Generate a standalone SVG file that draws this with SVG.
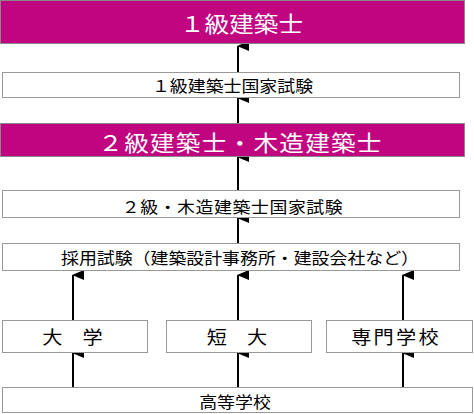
<svg xmlns="http://www.w3.org/2000/svg" width="474" height="414" viewBox="0 0 474 414">
<defs>
<marker id="ah" markerUnits="userSpaceOnUse" markerWidth="12" markerHeight="13" refX="5" refY="1" orient="auto-start-reverse" viewBox="0 0 10 13">
<path d="M0,12 L5,0 L10,12 Z" fill="#000"/>
</marker>
<style>
.mg{fill:#c1047f;stroke:#888;stroke-width:1}
.bx{fill:#fff;stroke:#999;stroke-width:1}
text{font-family:"Noto Sans CJK JP","Noto Sans CJK SC",sans-serif;font-weight:400;text-anchor:middle;dominant-baseline:central;fill:#000}
.big{font-size:22px;fill:#fff}
.mid{font-size:16px}
.sm{font-size:18px}
.cn{stroke:#000;stroke-width:2;fill:none;marker-end:url(#ah)}
</style>
</defs>
<g id="connectors">
<line class="cn" x1="238" y1="72" x2="238" y2="46"/>
<line class="cn" x1="238" y1="123" x2="238" y2="98"/>
<line class="cn" x1="238" y1="190" x2="238" y2="157"/>
<line class="cn" x1="238" y1="243" x2="238" y2="218"/>
<line class="cn" x1="73" y1="320" x2="73" y2="275"/>
<line class="cn" x1="238" y1="320" x2="238" y2="275"/>
<line class="cn" x1="403" y1="320" x2="403" y2="275"/>
<line class="cn" x1="73" y1="387" x2="73" y2="353"/>
<line class="cn" x1="238" y1="387" x2="238" y2="353"/>
<line class="cn" x1="403" y1="387" x2="403" y2="353"/>
</g>
<g id="n1"><rect class="mg" x="0.5" y="0.5" width="464" height="43"/><text class="big" transform="translate(241.5,23) scale(1.12,1)">１級建築士</text></g>
<g id="n2"><rect class="bx" x="2.5" y="72.5" width="457" height="25"/><text class="mid" transform="translate(232.5,85) scale(1.12,1)">１級建築士国家試験</text></g>
<g id="n3"><rect class="mg" x="0.5" y="123.5" width="464" height="33"/><text class="big" transform="translate(240.5,142) scale(1.12,1)" style="letter-spacing:1.1px">２級建築士・木造建築士</text></g>
<g id="n4"><rect class="bx" x="2.5" y="190.5" width="457" height="27"/><text class="mid" transform="translate(232.5,206) scale(1.12,1)" style="letter-spacing:0.5px">２級・木造建築士国家試験</text></g>
<g id="n5"><rect class="bx" x="2.5" y="243.5" width="457" height="27"/><text class="mid" transform="translate(240,257) scale(1.12,1)">採用試験（建築設計事務所・建設会社など）</text></g>
<g id="n6"><rect class="bx" x="2.5" y="320.5" width="145" height="32"/><text class="sm" transform="translate(72.5,336) scale(1.12,1)">大　学</text></g>
<g id="n7"><rect class="bx" x="166.5" y="320.5" width="145" height="32"/><text class="sm" transform="translate(237,336) scale(1.12,1)">短　大</text></g>
<g id="n8"><rect class="bx" x="326.5" y="320.5" width="146" height="32"/><text class="sm" transform="translate(396,336) scale(1.12,1)" style="letter-spacing:2px">専門学校</text></g>
<g id="n9"><rect class="bx" x="2.5" y="387.5" width="470" height="25"/><text class="mid" transform="translate(235,401) scale(1.12,1)">高等学校</text></g>
</svg>
